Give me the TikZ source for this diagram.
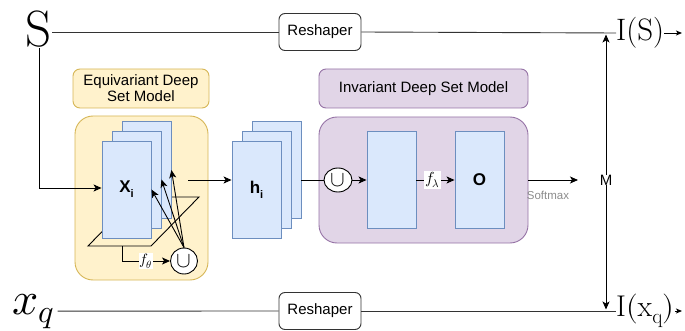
\documentclass[tikz,border=0pt]{standalone}
\usepackage{fontspec}
\usepackage{unicode-math}
\setmathfont{Latin Modern Math}
\newfontfamily\arial{Liberation Sans}
\usetikzlibrary{arrows.meta,shapes.geometric,calc}
\definecolor{yfill}{HTML}{FFF2CC}
\definecolor{ydraw}{HTML}{D6B656}
\definecolor{pfill}{HTML}{E1D5E7}
\definecolor{pdraw}{HTML}{9673A6}
\definecolor{bfill}{HTML}{DAE8FC}
\definecolor{bdraw}{HTML}{6C8EBF}
\definecolor{lgray}{HTML}{333333}
\begin{document}
\begin{tikzpicture}[x=1pt,y=-1pt,
  every node/.style={font=\arial\fontsize{15}{17}\selectfont},
  tip/.style={-{Stealth[length=8pt,width=7pt,inset=2pt]}},
  smalltip/.style={-{Stealth[length=6pt,width=5pt,inset=1.5pt]}},
  conn/.style={line width=0.9pt,draw=black},
  blue/.style={draw=bdraw,fill=bfill,line width=0.9pt,minimum width=49pt,minimum height=97pt,inner sep=0pt},
  ybox/.style={draw=ydraw,fill=yfill,line width=0.9pt,inner sep=0pt},
  pbox/.style={draw=pdraw,fill=pfill,line width=0.9pt,inner sep=0pt},
  reshape/.style={draw=lgray,fill=white,rounded corners=6pt,line width=0.9pt,minimum width=82pt,minimum height=37pt,inner sep=0pt},
  unionnode/.style={ellipse,draw=black,fill=white,line width=0.9pt,inner sep=0pt,font=\fontsize{22}{22}\selectfont},
  bigmath/.style={inner sep=0pt,font=\fontsize{30}{30}\selectfont},
  boldlab/.style={font=\arial\fontsize{17}{17}\selectfont\bfseries}
]
\useasboundingbox (0,0) rectangle (685,331);

% top and bottom inputs
\node[inner sep=0pt,font=\fontsize{51}{51}\selectfont,anchor=base] (S) at (39,47) {S};
\node[inner sep=0pt,font=\fontsize{46}{46}\selectfont,anchor=base west] (xq) at (12,314) {$x_{\raisebox{3pt}{$\scriptstyle q$}}$};
\node[reshape] (rs1) at (320,32) {Reshaper};
\node[reshape] (rs2) at (320,311) {Reshaper};
\node[bigmath,anchor=west,font=\fontsize{31}{31}\selectfont] (IS) at (616,33) {I(S)};
\node[bigmath,anchor=west] (Ixq) at (616,311) {$\mathrm{I}(\mathrm{x_q})$};
\coordinate (ISend) at (682,33);
\coordinate (Ixqend) at (682,311);

% yellow model
\node[ybox,rounded corners=7pt,minimum width=136pt,minimum height=39pt,align=center] (ylab) at (141,88.5) {Equivariant Deep\\[-1pt]Set Model};
\node[ybox,rounded corners=18pt,minimum width=133pt,minimum height=164pt] (ybig) at (141.5,198) {};

% parallelogram behind stack
\coordinate (pa) at (88,246);
\coordinate (pb) at (151,246);
\coordinate (pc) at (199,197);
\coordinate (pd) at (136,197);
\draw[conn] (pa) -- (pb) -- (pc) -- (pd) -- cycle;

\node[blue] (Xb) at (146.5,170) {};
\node[blue] (Xm) at (136.5,179.5) {};
\node[blue,boldlab] (Xf) at (126.5,189.5) {X\raisebox{-5pt}{\fontsize{11}{11}\selectfont i}};

\node[unionnode,minimum width=27pt,minimum height=26pt] (U1) at (184,261) {$\cup$};
\coordinate (pbot) at (122,246);
\draw[conn,tip] (pbot) |- (U1.west) node[pos=0.75,fill=white,inner sep=1pt,font=\fontsize{15}{15}\selectfont] {$f_\theta$};
\draw[conn,tip] (U1.north) -- (Xf.east);
\draw[conn,tip] (U1.north) -- (Xm.east);
\draw[conn,tip] (U1.north) -- (Xb.east);

\draw[conn,tip] (S.south) |- ($(Xf.west)+(0,-1.5)$);

% h stack
\node[blue] (hb) at (276.5,170) {};
\node[blue] (hm) at (266.5,179.5) {};
\node[blue,boldlab] (hf) at (256.5,189.5) {h\raisebox{-5pt}{\fontsize{11}{11}\selectfont i}};
\coordinate (ya) at (188,180);
\draw[conn,tip] (ya) -- (ya -| hf.west);

% purple model
\node[pbox,rounded corners=7pt,minimum width=209pt,minimum height=39pt] (plab) at (423.5,88.5) {Invariant Deep Set Model};
\node[pbox,rounded corners=18pt,minimum width=209pt,minimum height=126pt] (pbig) at (423.5,180) {};
\node[unionnode,minimum width=28pt,minimum height=24pt] (U2) at (338,180) {$\cup$};
\node[blue] (r1) at (391.5,179.5) {};
\node[blue,boldlab] (r2) at (479.5,179.5) {O};
\draw[conn] (U2 -| hb.east) -- (U2.west);
\draw[conn,tip] (U2.east) -- (U2 -| r1.west);
\draw[conn,tip] (U2 -| r1.east) -- (U2 -| r2.west) node[pos=0.42,fill=white,inner sep=1.5pt,font=\fontsize{16}{16}\selectfont] {$f_\lambda$};

% output
\node[inner sep=0pt,font=\arial\fontsize{15}{15}\selectfont] (M) at (606,180) {M};
\coordinate (smend) at (578,180);
\draw[conn,tip] (U2 -| pbig.east) -- (smend);
\node[text=black!45,font=\arial\fontsize{11.5}{11.5}\selectfont] (sm) at (548,195) {Softmax};

% long lines
\draw[conn,draw=lgray] (S.east |- rs1) -- (rs1.west);
\draw[conn,draw=lgray] (rs1.east) -- (IS.west);
\draw[conn,draw=lgray] ($(xq.east)+(3,0)$ |- rs2) -- (rs2.west);
\draw[conn,draw=lgray] (rs2.east) -- (Ixq.west);
\draw[conn,smalltip] (IS.east) -- (ISend);
\draw[conn,smalltip] (Ixq.east) -- (Ixqend);
\coordinate (topJ) at (606,34.5);
\coordinate (botJ) at (606,309.5);
\draw[conn,tip] (M.north) -- (topJ);
\draw[conn,tip] (M.south) -- (botJ);
\end{tikzpicture}
\end{document}
